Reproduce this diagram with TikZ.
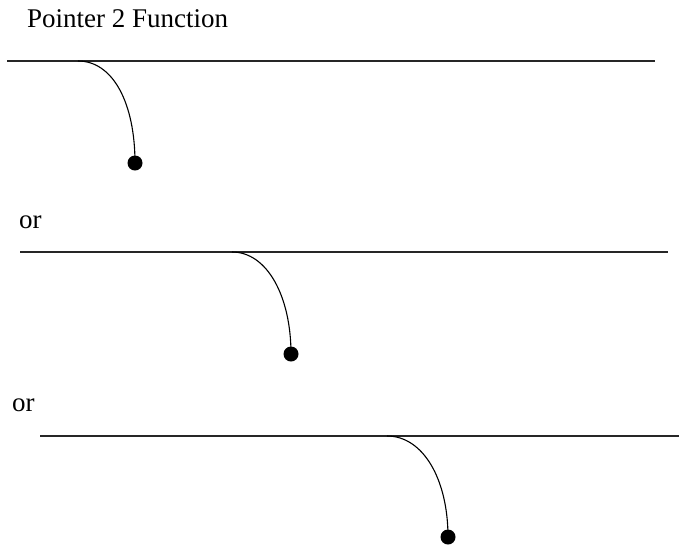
\documentclass[tikz,border=0pt]{standalone}
\usepackage{fontspec}
\setmainfont{Liberation Serif}
\begin{document}
\begin{tikzpicture}[x=1pt,y=-1pt,
  lbl/.style={anchor=base west,inner sep=0pt,font=\fontsize{27}{31}\selectfont},
  rail/.style={line width=1.3pt,draw=black!85},
  hook/.style={line width=1.1pt,draw=black},
  knob/.style={circle,fill=black,inner sep=0pt,minimum size=15pt}]
\useasboundingbox (0,0) rectangle (679,547);
\node[lbl] (title) at (27,27) {Pointer 2 Function};
\node[lbl] (or1) at (19,228) {or};
\node[lbl] (or2) at (12,411) {or};
% first
\coordinate (a1) at (7,61);
\coordinate (b1) at (655,61);
\coordinate (s1) at (78,61);
\node[knob] (d1) at (135,163) {};
\draw[rail] (a1) -- (b1);
\draw[hook] (s1) .. controls +(35,0) and +(0,-60) .. (d1.center);
% second
\coordinate (a2) at (20,252);
\coordinate (b2) at (668,252);
\coordinate (s2) at (232,252);
\node[knob] (d2) at (291,354) {};
\draw[rail] (a2) -- (b2);
\draw[hook] (s2) .. controls +(35,0) and +(0,-58) .. (d2.center);
% third
\coordinate (a3) at (40,436);
\coordinate (b3) at (679,436);
\coordinate (s3) at (387,436);
\node[knob] (d3) at (448,537) {};
\draw[rail] (a3) -- (b3);
\draw[hook] (s3) .. controls +(36,0) and +(0,-58) .. (d3.center);
\end{tikzpicture}
\end{document}
